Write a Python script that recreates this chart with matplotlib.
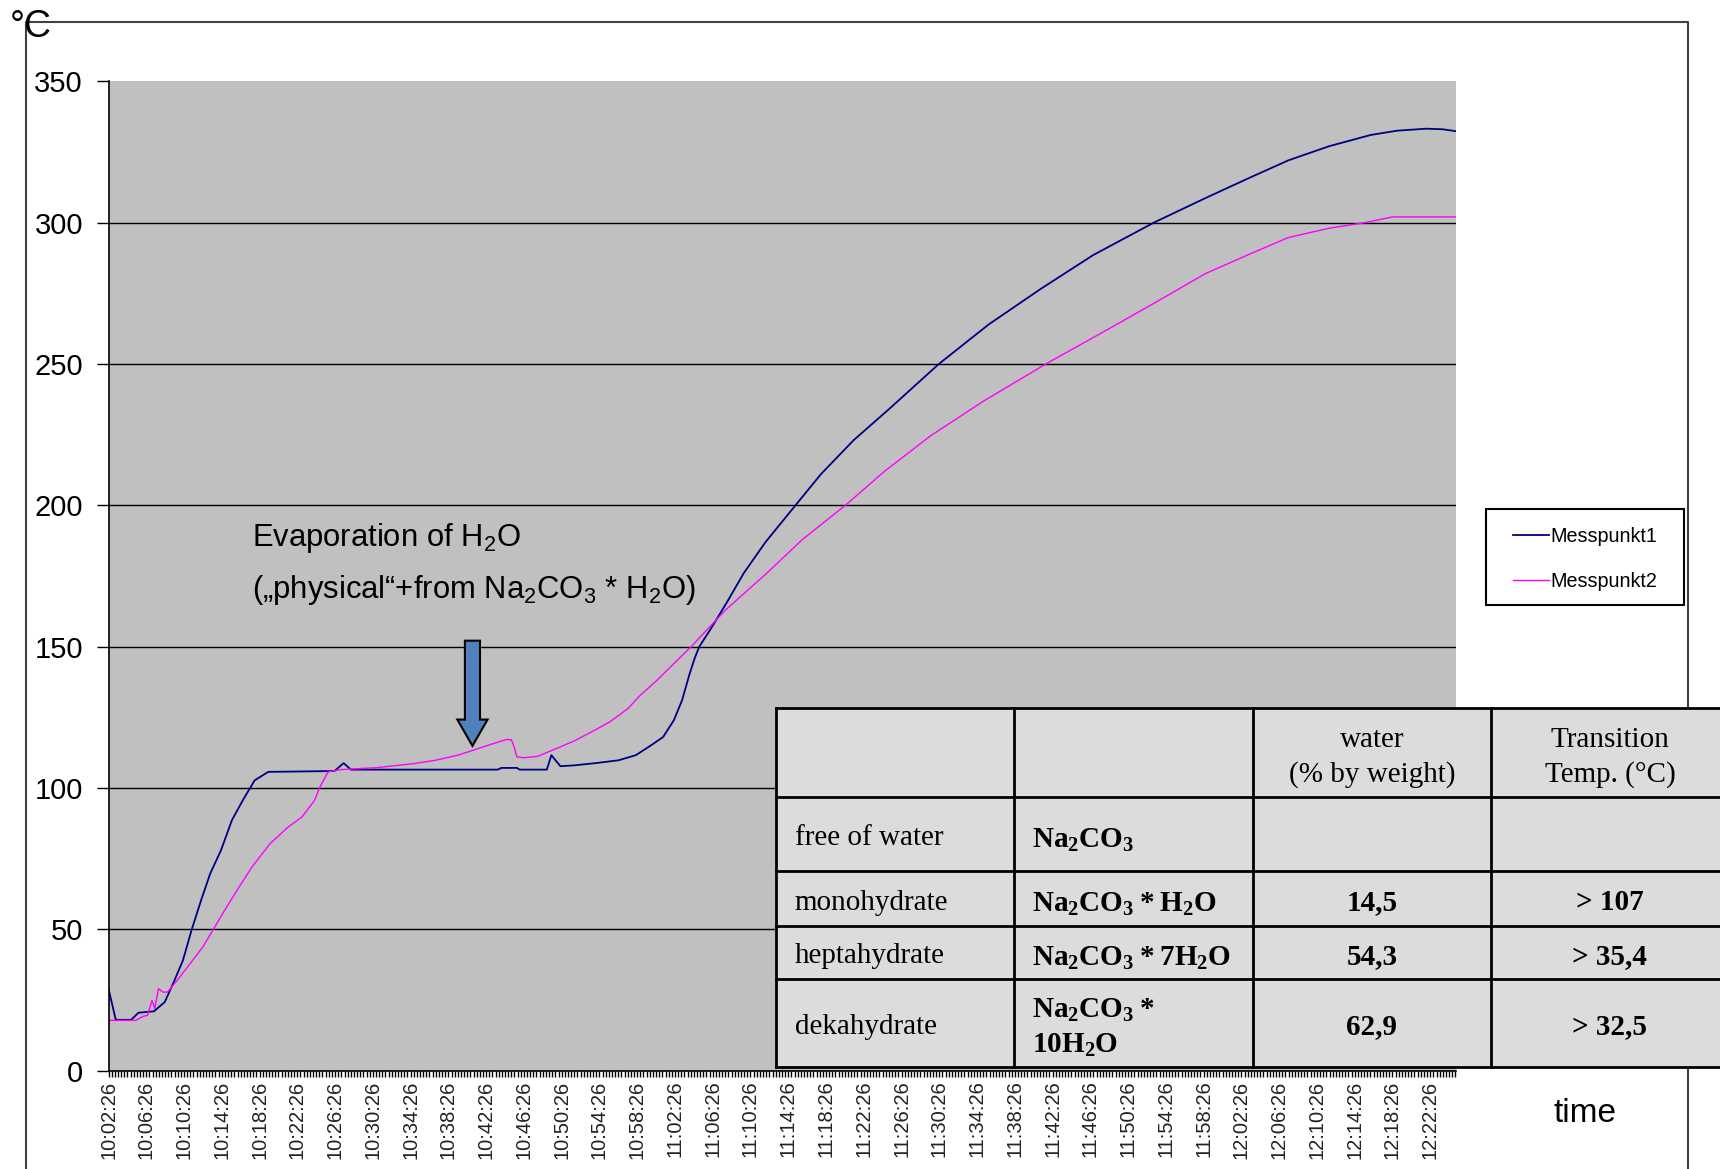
import numpy as np
import matplotlib.pyplot as plt
from matplotlib.patches import Rectangle, FancyArrow

plt.rcParams['font.family'] = ['Liberation Sans', 'DejaVu Sans']
plt.rcParams['mathtext.fontset'] = 'custom'
plt.rcParams['mathtext.rm'] = 'Liberation Sans'
plt.rcParams['mathtext.bf'] = 'Liberation Serif:bold'

# minutes after 10:02:26, temperature in degC
m1_t = [0.0, 0.77, 2.40, 3.17, 4.13, 4.81, 5.96, 6.92, 7.88, 8.84, 9.81, 10.77, 11.92, 13.07,
        14.32, 15.48, 16.92, 23.94, 24.90, 25.67, 41.24, 41.62, 43.26, 43.55, 46.43, 46.91,
        47.87, 49.31, 51.62, 54.03, 55.85, 57.29, 58.74, 59.89, 60.75, 61.52, 62.10, 62.58,
        63.93, 65.56, 67.29, 69.60, 72.77, 75.46, 78.92, 82.67, 87.96, 93.25, 98.73, 104.30,
        110.74, 116.22, 120.64, 124.97, 129.29, 133.72, 136.50, 139.58, 141.31, 142.75]
m1_v = [29, 18, 18, 20.5, 20.8, 21, 24.3, 31.4, 39, 50.2, 60.3, 69.7, 78, 88.6,
        96.2, 102.7, 105.7, 106, 108.8, 106.5, 106.5, 107.1, 107.1, 106.5, 106.5, 111.6,
        107.7, 108, 108.8, 109.8, 111.6, 114.7, 118, 124, 131, 140, 146, 150,
        157, 166, 176, 187, 200, 211, 223, 234, 250, 264, 276.5, 288.5,
        300, 308.7, 315.5, 322, 327, 331, 332.5, 333.2, 333, 332.3]

m2_t = [0.0, 2.88, 3.65, 4.13, 4.61, 4.90, 5.29, 5.77, 6.25, 7.40, 8.65, 10.00, 11.25, 12.40,
        13.84, 15.19, 17.11, 19.03, 20.48, 21.82, 22.40, 23.26, 24.61, 28.45, 32.30, 34.61,
        37.01, 38.84, 40.76, 42.20, 42.68, 42.97, 43.26, 44.03, 45.47, 47.39, 49.31, 51.14,
        53.06, 54.99, 56.33, 58.06, 59.89, 61.72, 65.37, 69.60, 73.54, 78.06, 82.19, 87.09,
        92.76, 99.30, 105.74, 111.03, 116.22, 120.64, 124.97, 129.29, 133.14, 136.02, 142.75]
m2_v = [17.8, 17.8, 19.2, 19.6, 24.9, 22, 29, 27.8, 27.8, 32.5, 37.9, 43.8, 50.8, 57.3,
        65, 72, 80.3, 86.2, 89.7, 95.6, 100.4, 105.7, 106.5, 107.2, 108.6, 109.8,
        111.6, 113.6, 115.7, 117.2, 117, 114.5, 111, 110.7, 111.2, 113.9, 116.6, 119.8,
        123.3, 128, 132.8, 138, 144, 150, 163, 175.6, 188, 200, 212, 224.6,
        237, 250, 262, 272, 282, 288.5, 294.7, 298, 300, 302, 302]

time_labels = ['10:02:26', '10:06:26', '10:10:26', '10:14:26', '10:18:26', '10:22:26',
               '10:26:26', '10:30:26', '10:34:26', '10:38:26', '10:42:26', '10:46:26',
               '10:50:26', '10:54:26', '10:58:26', '11:02:26', '11:06:26', '11:10:26',
               '11:14:26', '11:18:26', '11:22:26', '11:26:26', '11:30:26', '11:34:26',
               '11:38:26', '11:42:26', '11:46:26', '11:50:26', '11:54:26', '11:58:26',
               '12:02:26', '12:06:26', '12:10:26', '12:14:26', '12:18:26', '12:22:26']
label_step = 4  # minutes between labels
y_ticks = [0, 50, 100, 150, 200, 250, 300, 350]

row_names = ['free of water', 'monohydrate', 'heptahydrate', 'dekahydrate']
formulas = [r'$\mathbf{Na_2CO_3}$', r'$\mathbf{Na_2CO_3 * H_2O}$',
            r'$\mathbf{Na_2CO_3 * 7H_2O}$', r'$\mathbf{Na_2CO_3 *}$']
water_pct = ['', '14,5', '54,3', '62,9']
trans_temp = ['', '> 107', '> 35,4', '> 32,5']

W, H = 1720, 1169
fig = plt.figure(figsize=(W / 100, H / 100), dpi=100)

# background frame
bg = fig.add_axes([0, 0, 1, 1], zorder=-1)
bg.set_xlim(0, W)
bg.set_ylim(H, 0)
bg.axis('off')
bg.plot([26, 26, 1688, 1688], [H, 22, 22, H], color='#404040', lw=1.5)
bg.text(10, 37, '°C', fontsize=27, ha='left', va='baseline')

# main chart
ax = fig.add_axes([108.5 / W, 1 - 1070.7 / H, (1455.7 - 108.5) / W, (1070.7 - 81.2) / H])
ax.set_facecolor('#c0c0c0')
ax.plot(m1_t, m1_v, color='#000080', lw=1.3, label='Messpunkt1')
ax.plot(m2_t, m2_v, color='#ff00ff', lw=1.0, label='Messpunkt2')
ax.set_xlim(0, 142.7)
ax.set_ylim(0, 350)
ax.set_yticks(y_ticks)
ax.yaxis.grid(True, color='black', lw=1.0)
ax.get_ygridlines()[-1].set_visible(False)
ax.set_axisbelow(True)
for s in ['top', 'right']:
    ax.spines[s].set_visible(False)
for s in ['left', 'bottom']:
    ax.spines[s].set_color('black')
    ax.spines[s].set_linewidth(1.2)
ax.tick_params(axis='y', length=8.4, width=1, labelsize=21, pad=10)
ax.set_xticks([i * label_step for i in range(len(time_labels))])
ax.set_xticklabels(time_labels, rotation=90, fontsize=14.5, color='#222222')
ax.set_xticks(np.arange(0, 142.7, 1 / 3), minor=True)
ax.tick_params(axis='x', which='both', length=4, width=1, pad=3)

ax.add_patch(FancyArrow(38.55, 152.1, 0, -37.2, width=1.6, head_width=3.2,
                        head_length=9.3, length_includes_head=True,
                        facecolor='#4f81bd', edgecolor='black', lw=1.5, zorder=5))

# overlay: annotation, table, legend box, axis title
top = fig.add_axes([0, 0, 1, 1], zorder=3)
top.set_xlim(0, W)
top.set_ylim(H, 0)
top.axis('off')
top.patch.set_alpha(0)

top.text(252, 546, r'Evaporation of H$_\mathrm{2}$O', fontsize=22.3, va='baseline')
top.text(252, 598, r'(„physical“+from Na$_\mathrm{2}$CO$_\mathrm{3}$ * H$_\mathrm{2}$O)',
         fontsize=22.3, va='baseline')

top.text(1585, 1113, 'time', fontsize=24, ha='center', va='center')

# table
col_edges = [775.6, 1013.6, 1252.8, 1490.8, 1729]
row_edges = [707.6, 796.5, 871, 926, 978.5, 1067.4]
top.add_patch(Rectangle((col_edges[0], row_edges[0]), col_edges[-1] - col_edges[0],
                        row_edges[-1] - row_edges[0], facecolor='#dcdcdc',
                        edgecolor='none', zorder=1))
for x in col_edges:
    top.plot([x, x], [row_edges[0], row_edges[-1]], color='black', lw=2, zorder=2)
for y in row_edges:
    top.plot([col_edges[0], col_edges[-1]], [y, y], color='black', lw=2, zorder=2)

serif = 'Liberation Serif'
tfs = 21
c2 = (col_edges[2] + col_edges[3]) / 2
c3 = (col_edges[3] + col_edges[4]) / 2
top.text(c2, 740, 'water', family=serif, fontsize=tfs, ha='center', va='center', zorder=3)
top.text(c2, 775, '(% by weight)', family=serif, fontsize=tfs, ha='center', va='center', zorder=3)
top.text(c3, 740, 'Transition', family=serif, fontsize=tfs, ha='center', va='center', zorder=3)
top.text(c3, 775, 'Temp. (°C)', family=serif, fontsize=tfs, ha='center', va='center', zorder=3)

for i, name in enumerate(row_names):
    yc = (row_edges[i + 1] + row_edges[i + 2]) / 2 + 4
    top.text(col_edges[0] + 19, yc, name, family=serif, fontsize=tfs, va='center', zorder=3)
    if i == 3:
        top.text(col_edges[1] + 18, 1010, formulas[i], fontsize=tfs, va='center', zorder=3)
        top.text(col_edges[1] + 18, 1045, r'$\mathbf{10H_2O}$', fontsize=tfs, va='center', zorder=3)
    else:
        top.text(col_edges[1] + 18, yc + 2, formulas[i], fontsize=tfs, va='center', zorder=3)
    top.text(c2, yc, water_pct[i], family=serif, fontsize=tfs, weight='bold',
             ha='center', va='center', zorder=3)
    top.text(c3, yc, trans_temp[i], family=serif, fontsize=tfs, weight='bold',
             ha='center', va='center', zorder=3)

# legend
top.add_patch(Rectangle((1486, 509), 198, 96, facecolor='white', edgecolor='black', lw=1.5))
fig.legend(handles=ax.get_lines(), loc='center left', bbox_to_anchor=(1513 / W, 1 - 559 / H),
           frameon=False, fontsize=14.2, handlelength=1.8, handletextpad=0.12,
           labelspacing=1.35, borderpad=0, borderaxespad=0)

fig.savefig('out.png', dpi=100)
